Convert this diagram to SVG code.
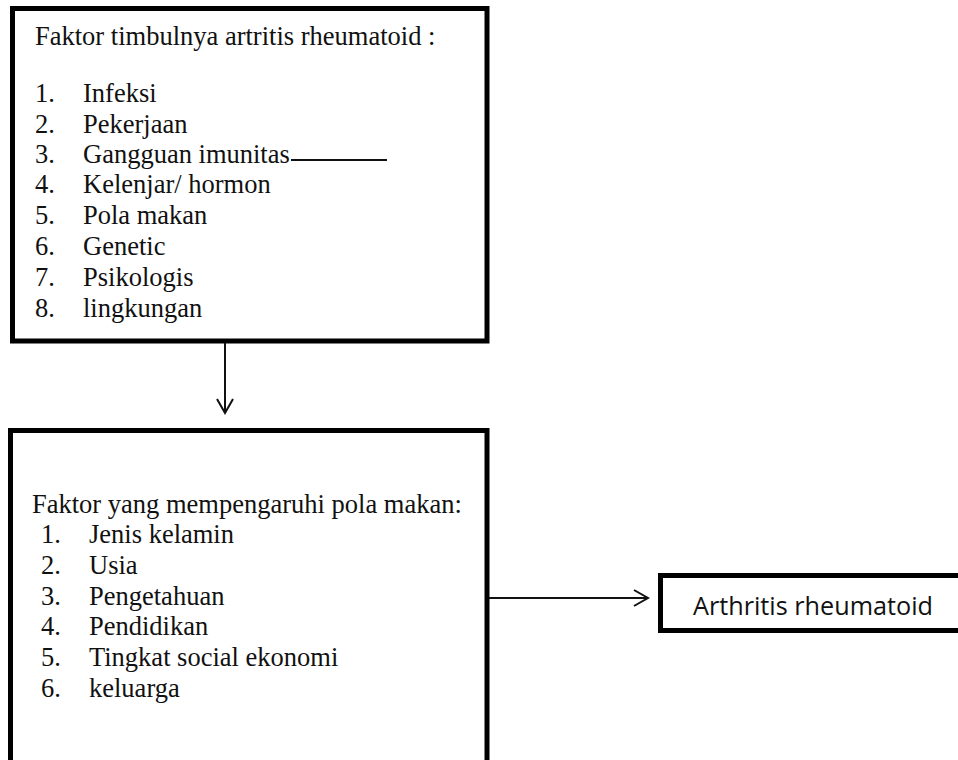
<svg xmlns="http://www.w3.org/2000/svg" width="958" height="760" viewBox="0 0 958 760">
<defs>
<style>
.box{fill:#fff;stroke:#000;stroke-width:5}
.t{font-family:"Liberation Serif","Times New Roman",serif;font-size:26.5px;fill:#111}
.s{font-family:"Open Sans","Liberation Sans",Arial,sans-serif;font-size:26px;fill:#111}
.ln{stroke:#111;stroke-width:2;fill:none}
</style>
<marker id="ah" viewBox="0 0 20 20" refX="18" refY="10" markerWidth="20" markerHeight="20" markerUnits="userSpaceOnUse" orient="auto">
<path d="M4,2 L18,10 L4,18" fill="none" stroke="#111" stroke-width="2"/>
</marker>
</defs>
<rect width="958" height="760" fill="#fff"/>
<g id="node-faktor-timbul">
<rect class="box" x="12.5" y="8.5" width="474.5" height="332.5"/>
<text class="t" x="35" y="45">Faktor timbulnya artritis rheumatoid :</text>
<text class="t" x="35" y="102">1.</text><text class="t" x="83" y="102">Infeksi</text>
<text class="t" x="35" y="133">2.</text><text class="t" x="83" y="133">Pekerjaan</text>
<text class="t" x="35" y="163">3.</text><text class="t" x="83" y="163">Gangguan imunitas</text>
<text class="t" x="35" y="193">4.</text><text class="t" x="83" y="193">Kelenjar/ hormon</text>
<text class="t" x="35" y="224">5.</text><text class="t" x="83" y="224">Pola makan</text>
<text class="t" x="35" y="255">6.</text><text class="t" x="83" y="255">Genetic</text>
<text class="t" x="35" y="286">7.</text><text class="t" x="83" y="286">Psikologis</text>
<text class="t" x="35" y="317">8.</text><text class="t" x="83" y="317">lingkungan</text>
</g>
<g id="node-faktor-pola">
<rect class="box" x="10.5" y="430.5" width="476.5" height="340"/>
<text class="t" x="32" y="513">Faktor yang mempengaruhi pola makan:</text>
<text class="t" x="41" y="543">1.</text><text class="t" x="89" y="543">Jenis kelamin</text>
<text class="t" x="41" y="574">2.</text><text class="t" x="89" y="574">Usia</text>
<text class="t" x="41" y="605">3.</text><text class="t" x="89" y="605">Pengetahuan</text>
<text class="t" x="41" y="635">4.</text><text class="t" x="89" y="635">Pendidikan</text>
<text class="t" x="41" y="666">5.</text><text class="t" x="89" y="666">Tingkat social ekonomi</text>
<text class="t" x="41" y="697">6.</text><text class="t" x="89" y="697">keluarga</text>
</g>
<g id="node-arthritis">
<rect class="box" x="660.5" y="575.5" width="310" height="55"/>
<text class="s" x="693" y="615" textLength="240" lengthAdjust="spacingAndGlyphs">Arthritis rheumatoid</text>
</g>
<g id="connectors">
<line class="ln" x1="291" y1="160" x2="387" y2="160"/>
<line class="ln" x1="225" y1="343" x2="225" y2="413" marker-end="url(#ah)"/>
<line class="ln" x1="489" y1="598" x2="648" y2="598" marker-end="url(#ah)"/>
</g>
</svg>
